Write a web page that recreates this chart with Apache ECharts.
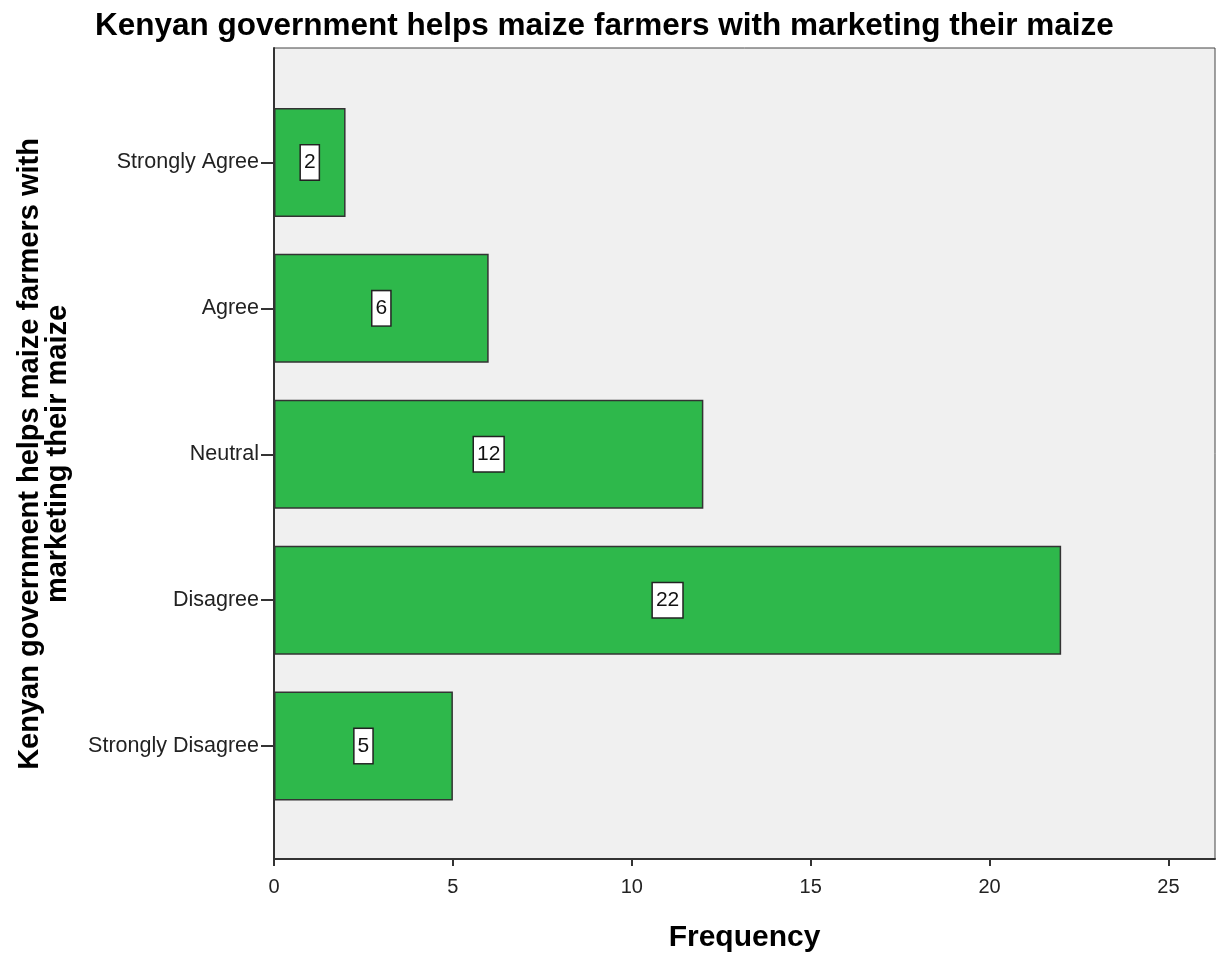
<!DOCTYPE html>
<html>
<head>
<meta charset="utf-8">
<script src="https://cdn.jsdelivr.net/npm/echarts@6/dist/echarts.min.js"></script>
<style>
html, body { margin: 0; padding: 0; background: #fff; }
#chart { width: 1216px; height: 954px; }
</style>
</head>
<body>
<div id="chart"></div>
<script>
var categories = ['Strongly Agree', 'Agree', 'Neutral', 'Disagree', 'Strongly Disagree'];
var counts = [2, 6, 12, 22, 5];
var xTicks = [0, 5, 10, 15, 20, 25];
var xMax = 26.3;

var ec = echarts.init(document.getElementById('chart'));
var font = 'Liberation Sans, Arial, sans-serif';

ec.setOption({
	animation: false,
	title: {
		text: 'Kenyan government helps maize farmers with marketing their maize',
		left: 90,
		top: 5,
		textStyle: {
			color: '#000',
			fontSize: 31.5,
			fontWeight: 'bold',
			fontFamily: font
		}
	},
	graphic: [{
		type: 'text',
		x: 44,
		y: 454,
		rotation: Math.PI / 2,
		style: {
			text: 'Kenyan government helps maize farmers with\nmarketing their maize',
			font: 'bold 29px ' + font,
			fill: '#000',
			align: 'center',
			verticalAlign: 'middle',
			lineHeight: 28
		}
	}],
	grid: [{
		left: 274,
		right: 1,
		top: 48,
		bottom: 95,
		outerBoundsMode: 'none',
		containLabel: false,
		show: true,
		backgroundColor: '#f0f0f0',
		borderColor: '#444',
		borderWidth: 1
	}, {
		left: 274,
		right: 1,
		top: 89.5,
		bottom: 135,
		outerBoundsMode: 'none',
		containLabel: false
	}],
	xAxis: [{
		gridIndex: 0,
		type: 'value',
		min: 0,
		max: xMax,
		interval: 5,
		name: 'Frequency',
		nameLocation: 'middle',
		nameGap: 64,
		nameTextStyle: {
			color: '#000',
			fontSize: 30,
			fontWeight: 'bold',
			fontFamily: font
		},
		axisLine: { show: true, lineStyle: { color: '#333', width: 2 } },
		axisTick: { show: true, length: 7, lineStyle: { color: '#333', width: 2 } },
		axisLabel: {
			color: '#222',
			fontSize: 20,
			fontFamily: font,
			margin: 18,
			showMaxLabel: false,
			formatter: function(v) {
				return xTicks.indexOf(v) >= 0 ? v : '';
			}
		},
		splitLine: { show: false }
	}, {
		gridIndex: 1,
		type: 'value',
		min: 0,
		max: xMax,
		show: false
	}],
	yAxis: [{
		gridIndex: 0,
		type: 'value',
		axisLine: { show: true, lineStyle: { color: '#333', width: 2 } },
		axisTick: { show: false },
		axisLabel: { show: false },
		splitLine: { show: false }
	}, {
		gridIndex: 1,
		type: 'category',
		inverse: true,
		data: categories,
		axisLine: { show: false },
		axisTick: {
			show: true,
			alignWithLabel: true,
			length: 13,
			lineStyle: { color: '#333', width: 2 }
		},
		axisLabel: {
			color: '#222',
			fontSize: 21.5,
			fontFamily: font,
			margin: 15
		},
		splitLine: { show: false }
	}],
	series: [{
		type: 'bar',
		xAxisIndex: 1,
		yAxisIndex: 1,
		data: counts,
		barWidth: 109,
		itemStyle: {
			color: '#2eb84b',
			borderColor: '#333',
			borderWidth: 1.5
		},
		label: {
			show: true,
			position: 'inside',
			color: '#111',
			fontSize: 21,
			fontFamily: font,
			backgroundColor: '#fff',
			borderColor: '#222',
			borderWidth: 1.5,
			padding: [7, 3, 6, 3]
		}
	}]
});
</script>
</body>
</html>
